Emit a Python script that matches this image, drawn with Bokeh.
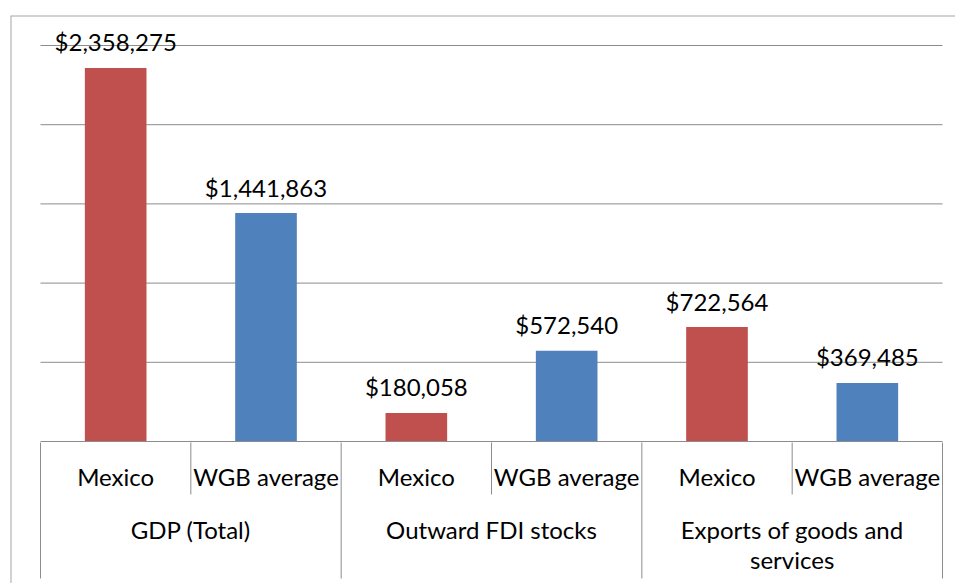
from bokeh.plotting import figure
from bokeh.models import Range1d, Span, ColumnDataSource
from bokeh.embed import file_html
from bokeh.resources import INLINE
from bokeh.core.properties import value

# ---- data ----
groups = ["GDP (Total)", "Outward FDI stocks", "Exports of goods and\nservices"]
series = ["Mexico", "WGB average"]
mexico = [2358275, 180058, 722564]
wgb_average = [1441863, 572540, 369485]
y_ticks = [500000, 1000000, 1500000, 2000000, 2500000]
y_max = 2500000

RED = "#C0504D"
BLUE = "#4F81BD"
GRID = "#8C8C8C"
BORDER = "#A6A6A6"
FONT = value("Lato")
FS = "24px"

n_slots = len(groups) * len(series)

# ---- layout (canvas pixels) ----
W, H = 955, 583
frame_left, frame_top = 10, 15
plot_l, plot_r = 40, 942      # category axis span
plot_t, plot_b = 45, 441      # y_max and zero
ux = (plot_r - plot_l) / n_slots
uy = y_max / (plot_b - plot_t)

x_start = (frame_left - plot_l) / ux
x_end = n_slots + (W - plot_r) / ux
y_end = y_max + (plot_t - frame_top) * uy
y_start = -(H - plot_b) * uy

p = figure(width=W, height=H, output_backend="svg", toolbar_location=None,
           x_range=Range1d(x_start, x_end), y_range=Range1d(y_start, y_end),
           x_axis_location=None, y_axis_location=None,
           min_border_left=frame_left, min_border_top=frame_top,
           min_border_right=0, min_border_bottom=0)
p.outline_line_color = None
p.xgrid.visible = False
p.ygrid.visible = False
p.background_fill_color = "white"
p.border_fill_color = "white"
p.extra_y_ranges = {"px": Range1d(start=H, end=frame_top)}

# borders (left & top)
p.add_layout(Span(location=x_start, dimension="height", line_color=BORDER, line_width=2))
p.add_layout(Span(location=y_end, dimension="width", line_color=BORDER, line_width=2))

# gridlines
p.segment(x0=[0] * len(y_ticks), x1=[n_slots] * len(y_ticks), y0=y_ticks, y1=y_ticks,
          line_color=GRID, line_width=1)

# bars
xs, tops, cols, labels = [], [], [], []
for gi in range(len(groups)):
    for si, vals in enumerate([mexico, wgb_average]):
        xs.append(gi * len(series) + si + 0.5)
        tops.append(vals[gi])
        cols.append(RED if si == 0 else BLUE)
        labels.append(f"${vals[gi]:,}")
src = ColumnDataSource(dict(x=xs, top=tops, color=cols, label=labels))
p.vbar(x="x", top="top", bottom=0, width=0.41, fill_color="color", line_color=None, source=src)
p.text(x="x", y="top", text="label", source=src, text_align="center",
       text_baseline="alphabetic", y_offset=-26, text_font=FONT, text_font_size=FS,
       text_color="black")

# category axis
p.segment(x0=[0], x1=[n_slots], y0=[0], y1=[0], line_color=GRID, line_width=1)
bound_x = list(range(0, n_slots + 1))
long_x = [b for b in bound_x if b % len(series) == 0]
short_x = [b for b in bound_x if b % len(series) != 0]
axis_px = plot_b + 1
p.segment(x0=long_x, x1=long_x, y0=[axis_px] * len(long_x), y1=[578] * len(long_x),
          line_color=GRID, line_width=1, y_range_name="px")
p.segment(x0=short_x, x1=short_x, y0=[axis_px] * len(short_x), y1=[494] * len(short_x),
          line_color=GRID, line_width=1, y_range_name="px")

sub_x = [i + 0.5 for i in range(n_slots)]
sub_t = [series[i % len(series)] for i in range(n_slots)]
p.text(x=sub_x, y=[476] * n_slots, text=sub_t, text_align="center", text_baseline="alphabetic",
       text_font=FONT, text_font_size=FS, text_color="black", y_range_name="px")

gx, gy, gt = [], [], []
for gi, g in enumerate(groups):
    for li, line in enumerate(g.split("\n")):
        gx.append(gi * len(series) + len(series) / 2)
        gy.append(529 + 30 * li)
        gt.append(line)
p.text(x=gx, y=gy, text=gt, text_align="center", text_baseline="alphabetic",
       text_font=FONT, text_font_size=FS, text_color="black", y_range_name="px")

open("out.html", "w").write(file_html(p, INLINE))
